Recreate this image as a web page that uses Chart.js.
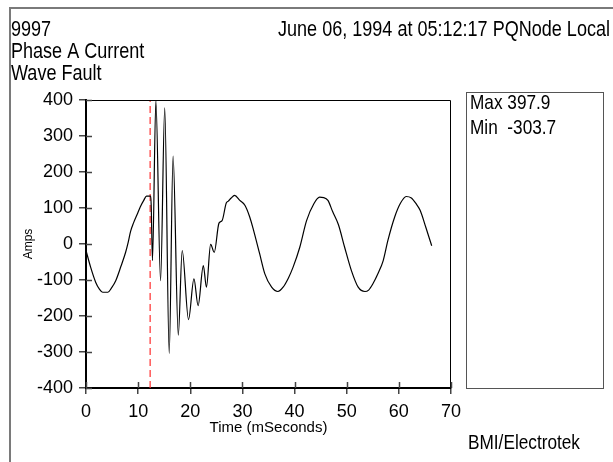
<!DOCTYPE html>
<html>
<head>
<meta charset="utf-8">
<script src="https://cdn.jsdelivr.net/npm/chart.js@4.4.1/dist/chart.umd.min.js"></script>
<style>
  html, body { margin: 0; padding: 0; background: #ffffff; }
  #c { display: block; }
</style>
</head>
<body>
<canvas id="c" width="613" height="462"></canvas>
<script>
// ---- Data ----
const timeMs = [0, 0.9, 1.85, 2.6, 3.2, 4.2, 4.9, 5.7, 6.7, 7.6, 8.1, 8.55, 9.1, 9.8, 10.4, 11.1, 11.6, 12.4,
  12.5, 12.75, 13.4, 14.3, 15.1, 15.96, 16.7, 17.7, 18.45, 19.66, 20.7, 21.5, 22.5, 23.1, 23.9, 24.6,
  25.5, 26.1, 26.9, 27.3, 27.8, 28.5, 29.5, 30.5, 31.4, 32.1, 33.3, 34.3, 35.6, 36.8, 37.8, 38.8,
  39.7, 41.0, 42.3, 43.7, 44.8, 45.6, 46.4, 47.3, 48.4, 49.6, 50.9, 52.2, 53.5, 54.2, 55.0, 56.0,
  57.0, 57.9, 59.2, 60.3, 61.4, 62.4, 63.3, 64.1, 65.2, 66.3];
const amps = [-18, -65, -106, -126, -134, -134, -122, -102, -62, -23, 5, 35, 58, 82, 103, 122, 133, 133,
  110, -46, 397.9, -102, 378, -303.7, 244, -253, -18, -210, -97, -171, -60, -120, -1, -23,
  58, 65, 114, 119, 127, 135, 121, 107, 75, 40, -27, -83, -120, -132, -120, -95,
  -65, -9, 65, 112, 130, 129, 121, 90, 54, -9, -74, -120, -132, -128, -111, -82,
  -46, 10, 75, 113, 132, 128, 112, 93, 45, -5];
const faultTimeMs = [12.3];
const xTickValues = [0, 10, 20, 30, 40, 50, 60, 70];
const yTickValues = [-400, -300, -200, -100, 0, 100, 200, 300, 400];
const headerLines = ['9997', 'Phase A Current', 'Wave Fault'];
const headerRight = 'June 06, 1994 at 05:12:17 PQNode Local';
const footerText = 'BMI/Electrotek';
const xTitle = 'Time (mSeconds)';
const yTitle = 'Amps';

const FONT = '"Liberation Sans", Arial, sans-serif';

const maxVal = Math.max(...amps);
const minVal = Math.min(...amps);

const wave = timeMs.map((t, i) => ({ x: t, y: amps[i] }));
const yMin = yTickValues[0], yMax = yTickValues[yTickValues.length - 1];
const faultLine = [{ x: faultTimeMs[0], y: yMin }, { x: faultTimeMs[0], y: yMax }];

function narrowText(ctx, text, x, y, align) {
  ctx.save();
  ctx.translate(x, y);
  ctx.scale(0.82, 1);
  ctx.textAlign = align;
  ctx.fillText(text, 0, 0);
  ctx.restore();
}

const decor = {
  id: 'decor',
  beforeDraw(chart) {
    const ctx = chart.ctx;
    ctx.save();
    ctx.fillStyle = '#ffffff';
    ctx.fillRect(0, 0, chart.width, chart.height);
    ctx.restore();
  },
  afterDraw(chart) {
    const { ctx, chartArea: a, scales: { x, y } } = chart;
    ctx.save();
    // outer page frame (left and top)
    ctx.strokeStyle = '#7a7a7a';
    ctx.lineWidth = 2;
    ctx.beginPath();
    ctx.moveTo(10, chart.height);
    ctx.lineTo(10, 8);
    ctx.lineTo(chart.width, 8);
    ctx.stroke();

    // plot frame top & right
    ctx.strokeStyle = '#000';
    ctx.lineWidth = 1;
    ctx.beginPath();
    ctx.moveTo(a.left, a.top + 0.5);
    ctx.lineTo(a.right - 0.5, a.top + 0.5);
    ctx.lineTo(a.right - 0.5, a.bottom);
    ctx.stroke();

    // inward tick halves
    ctx.strokeStyle = '#444';
    ctx.lineWidth = 1.5;
    ctx.beginPath();
    y.ticks.forEach(t => {
      const py = Math.round(y.getPixelForValue(t.value)) + 0.5;
      ctx.moveTo(a.left, py); ctx.lineTo(a.left + 6, py);
    });
    x.ticks.forEach(t => {
      const px = Math.round(x.getPixelForValue(t.value)) + 0.5;
      ctx.moveTo(px, a.bottom); ctx.lineTo(px, a.bottom - 6);
    });
    ctx.stroke();

    // stats box
    const bx = a.right + 15, by = a.top - 8, bw = chart.width - 10 - bx, bh = a.bottom - by;
    ctx.strokeStyle = '#555';
    ctx.lineWidth = 1;
    ctx.strokeRect(bx + 0.5, by + 0.5, bw, bh);

    ctx.fillStyle = '#000';
    ctx.textBaseline = 'middle';
    ctx.font = '21px ' + FONT;
    narrowText(ctx, 'Max ' + maxVal.toFixed(1), bx + 4, by + 11, 'left');
    narrowText(ctx, 'Min  ' + minVal.toFixed(1), bx + 4, by + 36, 'left');

    // headers
    ctx.font = '22px ' + FONT;
    headerLines.forEach((s, i) => narrowText(ctx, s, 11, 30 + i * 22, 'left'));
    narrowText(ctx, headerRight, chart.width - 3, 30, 'right');

    // footer
    ctx.font = '21px ' + FONT;
    narrowText(ctx, footerText, 468, 443, 'left');
    ctx.restore();
  }
};

new Chart(document.getElementById('c'), {
  type: 'line',
  data: {
    datasets: [
      {
        data: wave,
        borderColor: '#000',
        borderWidth: 1.2,
        pointRadius: 0,
        cubicInterpolationMode: 'monotone',
        order: 1
      },
      {
        data: faultLine,
        borderColor: '#ff2e2e',
        borderWidth: 1.2,
        borderDash: [7, 4],
        pointRadius: 0,
        order: 2
      }
    ]
  },
  options: {
    responsive: false,
    animation: false,
    devicePixelRatio: 1,
    layout: { padding: { left: 0, top: 100, right: 162, bottom: 0 } },
    plugins: { legend: { display: false }, tooltip: { enabled: false } },
    scales: {
      x: {
        type: 'linear',
        min: xTickValues[0],
        max: xTickValues[xTickValues.length - 1],
        afterBuildTicks: s => { s.ticks = xTickValues.map(v => ({ value: v })); },
        afterFit: s => { s.height = 74; },
        grid: { display: true, drawOnChartArea: false, drawTicks: true, tickLength: 6, color: '#444', lineWidth: 1.5 },
        border: { display: true, color: '#000', width: 2 },
        ticks: { color: '#000', font: { family: FONT, size: 18 }, padding: 7, maxRotation: 0 },
        title: { display: true, text: xTitle, color: '#000', font: { family: FONT, size: 15 }, padding: { top: 0, bottom: 25 } }
      },
      y: {
        min: yMin,
        max: yMax,
        afterBuildTicks: s => { s.ticks = yTickValues.map(v => ({ value: v })); },
        afterFit: s => { s.width = 86; },
        grid: { display: true, drawOnChartArea: false, drawTicks: true, tickLength: 7, color: '#444', lineWidth: 1.5 },
        border: { display: true, color: '#000', width: 2 },
        ticks: { color: '#000', font: { family: FONT, size: 18 }, padding: 6 },
        title: { display: true, text: yTitle, color: '#000', font: { family: FONT, size: 12 }, padding: { top: 21, bottom: 0 } }
      }
    }
  },
  plugins: [decor]
});
</script>
</body>
</html>
